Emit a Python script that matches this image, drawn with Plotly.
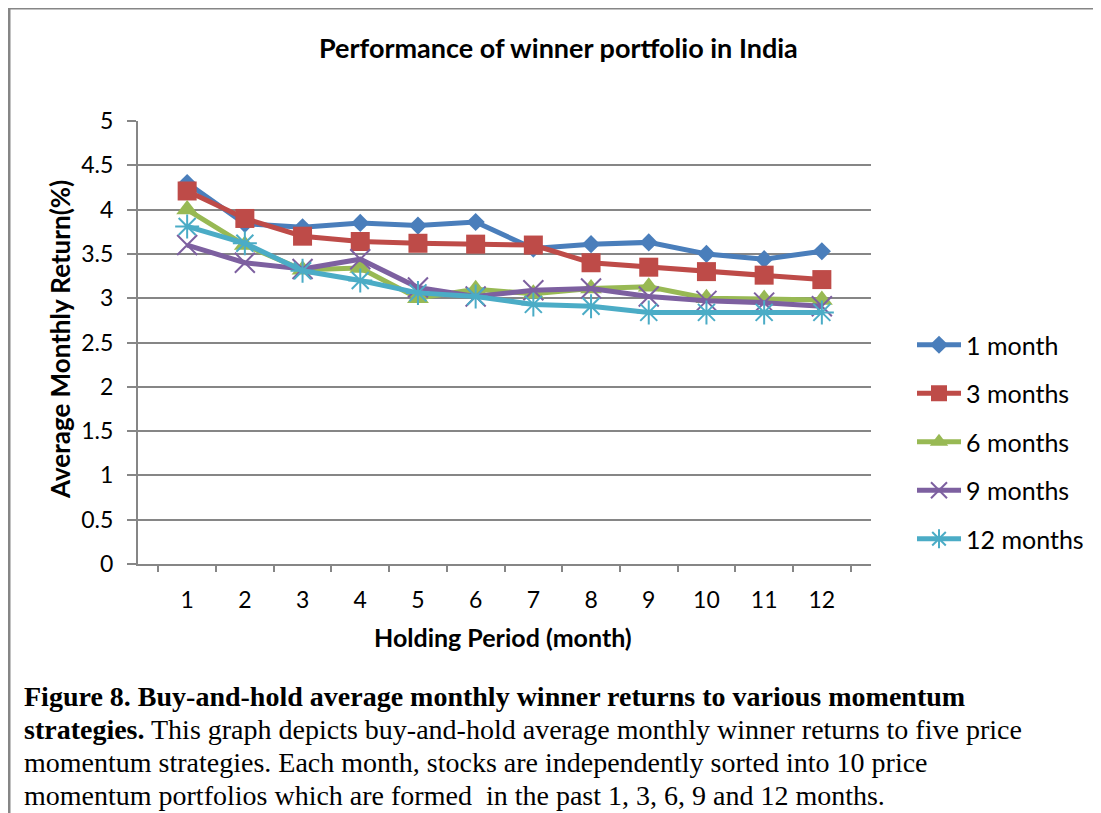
import plotly.graph_objects as go

# holding period categories
months = ["1", "2", "3", "4", "5", "6", "7", "8", "9", "10", "11", "12"]

# average monthly return (%) per formation period
ret_1m = [4.30, 3.84, 3.80, 3.85, 3.82, 3.86, 3.56, 3.61, 3.63, 3.50, 3.44, 3.53]
ret_3m = [4.21, 3.90, 3.70, 3.64, 3.62, 3.61, 3.60, 3.40, 3.35, 3.30, 3.26, 3.21]
ret_6m = [4.00, 3.60, 3.32, 3.34, 3.00, 3.10, 3.05, 3.11, 3.13, 3.00, 2.99, 2.98]
ret_9m = [3.60, 3.40, 3.33, 3.44, 3.12, 3.02, 3.09, 3.11, 3.02, 2.97, 2.95, 2.91]
ret_12m = [3.81, 3.62, 3.31, 3.20, 3.06, 3.02, 2.93, 2.91, 2.84, 2.84, 2.84, 2.84]

series_names = ["1 month", "3 months", "6 months", "9 months", "12 months"]

# page body adds an 8px margin, so work in screen pixels and shift
OFF = 8
W, H = 1101 - OFF, 813 - OFF
X0, X1, YT, YB = 138, 871, 121, 564   # plot area on screen


def px(x):
    return (x - X0) / (X1 - X0)


def py(y):
    return (YB - y) / (YB - YT)


FONT = "Lato"
GREY = "#868686"

fig = go.Figure()

styles = [
    dict(color="#4A7EBB", symbol="diamond", size=14, lw=0),
    dict(color="#BE4B48", symbol="square", size=19, lw=0),
    dict(color="#98B954", symbol="triangle-up", size=19, lw=0),
    dict(color="#7D60A0", symbol="x-thin-open", size=20, lw=2),
    dict(color="#4BACC6", symbol="asterisk-open", size=20, lw=2),
]

for name, vals, st in zip(series_names, [ret_1m, ret_3m, ret_6m, ret_9m, ret_12m], styles):
    fig.add_trace(go.Scatter(
        x=months, y=vals, name=name, mode="lines+markers",
        legendgroup=name,
        line=dict(color=st["color"], width=5),
        marker=dict(symbol=st["symbol"], size=st["size"], color=st["color"],
                    line=dict(color=st["color"], width=st["lw"])),
    ))

fig.update_xaxes(type="category", tickson="boundaries", ticks="outside", ticklen=6,
                 tickcolor=GREY, tickwidth=2, showline=True, linecolor=GREY, linewidth=2,
                 showgrid=False, tickfont=dict(family=FONT, size=23, color="black"),
                 ticklabelstandoff=14)
fig.update_yaxes(range=[0, 5], dtick=0.5, ticks="outside", ticklen=9, tickcolor=GREY,
                 tickwidth=2, showline=True, linecolor=GREY, linewidth=2,
                 showgrid=True, gridcolor=GREY, gridwidth=1.5, zeroline=False,
                 tickfont=dict(family=FONT, size=23, color="black"),
                 ticklabelstandoff=9)

annotations = [
    dict(text="<b>Performance of winner portfolio in India</b>", x=px(558), y=py(47),
         font=dict(family=FONT, size=27, color="black")),
    dict(text="<b>Holding Period (month)</b>", x=px(503), y=py(637),
         font=dict(family=FONT, size=25, color="black")),
    dict(text="<b>Average Monthly Return(%)</b>", x=px(60), y=py(340), textangle=-90,
         font=dict(family=FONT, size=26, color="black")),
]
caption = [
    "<b>Figure 8. Buy-and-hold average monthly winner returns to various momentum</b>",
    "<b>strategies.</b> This graph depicts buy-and-hold average monthly winner returns to five price",
    "momentum strategies. Each month, stocks are independently sorted into 10 price",
    "momentum portfolios which are formed  in the past 1, 3, 6, 9 and 12 months.",
]
for i, line in enumerate(caption):
    annotations.append(dict(text=line, x=px(22), y=py(696 + 33 * i), xanchor="left",
                            font=dict(family="Liberation Serif", size=28, color="black")))
for a in annotations:
    a.update(xref="paper", yref="paper", showarrow=False)
    a.setdefault("xanchor", "center")
    a.setdefault("yanchor", "middle")

shapes = [
    dict(type="line", xref="paper", yref="paper", x0=px(OFF), x1=px(1110), y0=py(OFF + 0.5),
         y1=py(OFF + 0.5), line=dict(color=GREY, width=2)),
    dict(type="line", xref="paper", yref="paper", x0=px(OFF + 1), x1=px(OFF + 1), y0=py(OFF),
         y1=py(830), line=dict(color=GREY, width=3)),
]

fig.update_layout(
    width=W, height=H,
    margin=dict(l=X0 - OFF, r=1101 - X1, t=YT - OFF, b=813 - YB),
    paper_bgcolor="white", plot_bgcolor="white",
    showlegend=True,
    legend=dict(x=px(912), y=py(322), xanchor="left", yanchor="top",
                font=dict(family=FONT, size=25, color="black"),
                tracegroupgap=13, itemwidth=44),
    annotations=annotations, shapes=shapes,
)

fig.write_html("out.html")
